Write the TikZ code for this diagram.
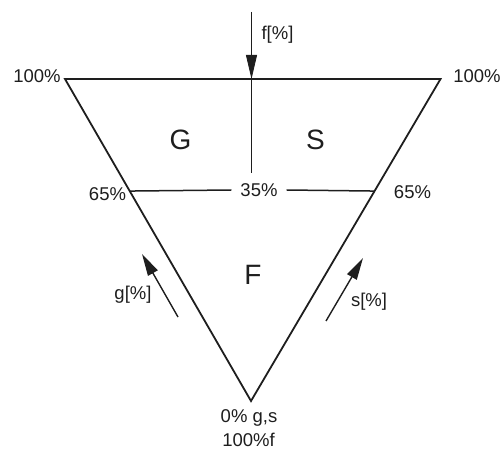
\documentclass[tikz,border=0pt]{standalone}
\usepackage{fontspec}
\setmainfont{Liberation Sans}
\usepackage{tikz}
\usetikzlibrary{arrows.meta, positioning, calc}
\definecolor{inkdark}{RGB}{30,30,30}
\tikzset{
  tri/.style={line width=1.8pt, color=inkdark, line join=miter},
  divline/.style={line width=1.5pt, color=inkdark},
  flowarrow/.style={-{Triangle[length=22pt, width=11pt]}, line width=1.4pt, color=inkdark},
  feedarrow/.style={-{Triangle[length=24pt, width=11pt]}, line width=0.8pt, color=inkdark},
  pct/.style={font=\fontsize{18.5}{20}\selectfont, text=inkdark, inner sep=0pt},
  zone/.style={font=\fontsize{28}{30}\selectfont, text=inkdark, inner sep=0pt}
}
\begin{document}
\begin{tikzpicture}[x=1pt, y=1pt]
  \useasboundingbox (0,0) rectangle (503,450);

  % Triangle corners
  \coordinate (tl) at (65,371);
  \coordinate (tr) at (440.5,371);
  \coordinate (bot) at (251,49);
  \coordinate (mtop) at (251.5,371);

  % Triangle
  \draw[tri] (tl) -- (tr) -- (bot) -- cycle;

  % 65% line
  \coordinate (ml) at ($(bot)!0.652!(tl)$);
  \coordinate (mr) at ($(bot)!0.652!(tr)$);
  \node[pct, inner xsep=9pt] (p35) at (259,260) {35\%};
  \draw[divline] (ml) -- (p35.west);
  \draw[divline] (p35.east) -- (mr);

  % Feed arrow and divider
  \coordinate (fin) at (251.5,438);
  \coordinate (mdiv) at (251.5,277);
  \draw[feedarrow] (fin) -- (mtop);
  \draw[divline] (mtop) -- (mdiv);
  \node[pct] (flab) at (277.5,415) {f[\%]};

  % Corner labels
  \node[pct] (l100) at (37,374) {100\%};
  \node[pct] (r100) at (477,374) {100\%};
  \node[pct] (l65) at (107.5,256) {65\%};
  \node[pct] (r65) at (412.5,258) {65\%};
  \node[pct] (b0) at (249,32) {0\% g,s};
  \node[pct] (b100) at (248.5,10.5) {100\%f};

  % Zones
  \node[zone] (G) at (180.5,310) {G};
  \node[zone] (S) at (315.5,310) {S};
  \node[zone] (F) at (253,175) {F};

  % Side arrows
  \coordinate (gtail) at (178,133);
  \coordinate (ghead) at (142,196);
  \coordinate (stail) at (326,129);
  \coordinate (shead) at (363,192);
  \draw[flowarrow] (gtail) -- (ghead);
  \draw[flowarrow] (stail) -- (shead);
  \node[pct] (glab) at (133,155) {g[\%]};
  \node[pct] (slab) at (369,148.5) {s[\%]};
\end{tikzpicture}
\end{document}
